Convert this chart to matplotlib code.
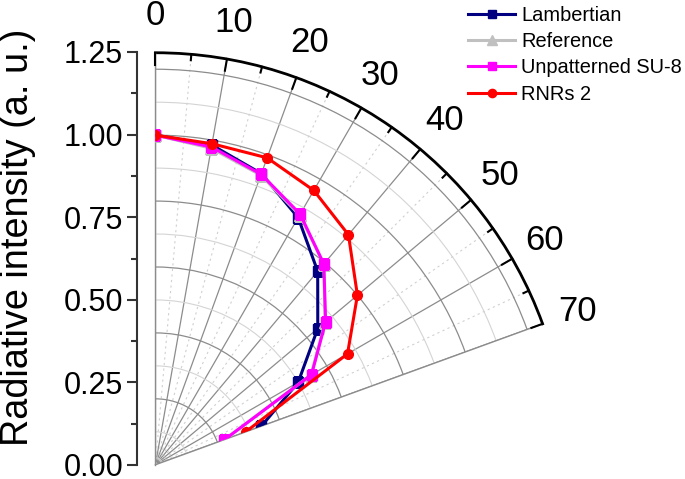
import numpy as np
import matplotlib.pyplot as plt
from matplotlib.ticker import FixedLocator, MultipleLocator

plt.rcParams['font.family'] = ['Liberation Sans', 'DejaVu Sans']

# angles in degrees
angles = [0, 10, 20, 30, 40, 50, 60, 70]
lambertian = [1.0, 0.985, 0.94, 0.866, 0.766, 0.643, 0.50, 0.342]
reference = [1.0, 0.975, 0.935, 0.875, 0.795, 0.672, 0.545, 0.225]
unpatterned = [1.0, 0.979, 0.938, 0.878, 0.795, 0.674, 0.547, 0.223]
rnrs2 = [1.0, 0.989, 0.991, 0.961, 0.911, 0.800, 0.673, 0.291]

theta_ticks = [0, 10, 20, 30, 40, 50, 60, 70]
theta_minor = [5, 15, 25, 35, 45, 55, 65]
r_ticks = [0.00, 0.25, 0.50, 0.75, 1.00, 1.25]
rmax = 1.25

W, H = 685, 479
fig = plt.figure(figsize=(W / 100, H / 100), dpi=100)

# polar wedge (box a bit larger than the wedge, mpl leaves a margin)
ax = fig.add_axes([143 / W, 1 / H, 412 / W, 438.5 / H], projection='polar')
ax.set_theta_zero_location('N')
ax.set_theta_direction(-1)
ax.set_thetamin(0)
ax.set_thetamax(70)
ax.set_rlim(0, rmax)

th = np.deg2rad(angles)
ax.plot(th, lambertian, color='#000080', marker='s', ms=6.5, lw=2.2, label='Lambertian', zorder=3)
ax.plot(th, reference, color='#c0c0c0', marker='^', ms=8, lw=2.2, label='Reference', zorder=3)
ax.plot(th, unpatterned, color='#ff00ff', marker='s', ms=7, lw=2.2, label='Unpatterned SU-8', zorder=4)
ax.plot(th, rnrs2, color='#ff0000', marker='o', ms=7, lw=2.2, label='RNRs 2', zorder=5)

ax.set_xticks(np.deg2rad(theta_ticks))
ax.set_xticklabels([str(t) for t in theta_ticks], fontsize=25)
ax.xaxis.set_minor_locator(FixedLocator(np.deg2rad(theta_minor)))
ax.tick_params(axis='x', which='major', direction='in', length=10, width=1.5, color='black', pad=20)
ax.tick_params(axis='x', which='minor', direction='in', length=5, width=1.5, color='black')

# inward ticks on the outer arc
for t in theta_ticks:
    ax.plot([np.deg2rad(t)] * 2, [rmax - 0.036, rmax], color='black', lw=1.5, clip_on=False, zorder=6)
for t in theta_minor:
    ax.plot([np.deg2rad(t)] * 2, [rmax - 0.018, rmax], color='black', lw=1.5, clip_on=False, zorder=6)

ax.yaxis.set_major_locator(MultipleLocator(0.2))
ax.yaxis.set_minor_locator(MultipleLocator(0.1))
ax.set_yticklabels([])
ax.tick_params(axis='y', which='both', length=0)

ax.grid(True, which='major', color='#8c8c8c', lw=0.9, ls='-')
ax.grid(True, which='minor', color='#d4d4d4', lw=0.8, ls='-')
ax.xaxis.grid(True, which='minor', color='#d0d0d0', lw=0.8, ls=(0, (2, 3)))

ax.spines['polar'].set_color('black')
ax.spines['polar'].set_linewidth(2)
ax.spines['start'].set_color('#8c8c8c')
ax.spines['start'].set_linewidth(1)
ax.spines['end'].set_color('#8c8c8c')
ax.spines['end'].set_linewidth(1)
ax.spines['inner'].set_visible(False)

# separate radial axis on the left
lax = fig.add_axes([137 / W, 14 / H, 0.0001, 413 / H])
lax.set_ylim(0, rmax)
lax.set_yticks(r_ticks)
lax.set_yticklabels([f'{t:.2f}' for t in r_ticks], fontsize=22)
lax.yaxis.set_minor_locator(MultipleLocator(0.125))
lax.set_xticks([])
for s in ['top', 'right', 'bottom']:
    lax.spines[s].set_visible(False)
lax.spines['left'].set_color('#333333')
lax.spines['left'].set_linewidth(1.5)
lax.tick_params(axis='y', which='major', direction='out', length=7, width=1.5, color='#333333', pad=3)
lax.tick_params(axis='y', which='minor', direction='out', length=4, width=1.5, color='#333333')

fig.text(18 / W, 1 - 237 / H, 'Radiative intensity (a. u.)', fontsize=27.3,
         rotation=90, ha='center', va='center')

handles, labels = ax.get_legend_handles_labels()
fig.legend(handles, labels, loc='upper left', bbox_to_anchor=(468 / W, 1 - 6 / H),
           frameon=False, fontsize=14.4, handlelength=2.35, handletextpad=0.3,
           labelspacing=0.36, borderpad=0, borderaxespad=0, markerscale=0.85)

fig.savefig('out.png', dpi=100)
